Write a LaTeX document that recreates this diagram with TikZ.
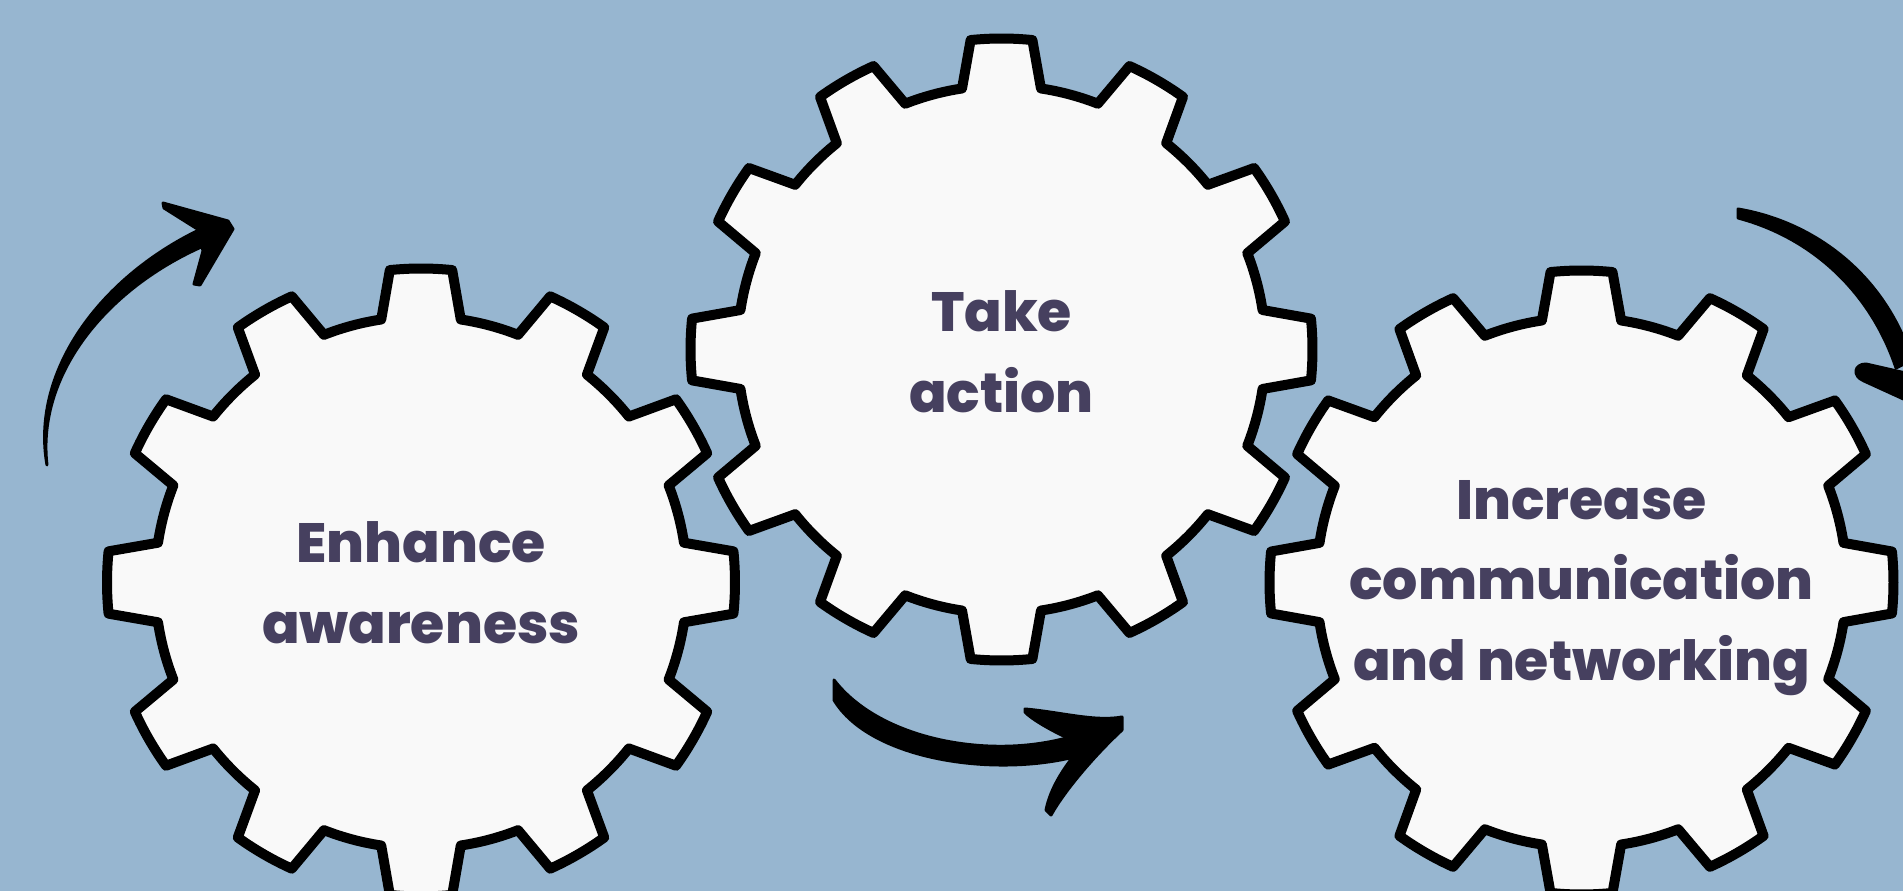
\documentclass[tikz,border=0pt]{standalone}
\usepackage{fontspec}
\setmainfont{Poppins}
\newfontfamily\gearfont{Poppins}[UprightFont={* ExtraBold}]
\usepackage{tikz}
\usetikzlibrary{calc}
\definecolor{bgblue}{HTML}{97B6D0}
\definecolor{gearwhite}{HTML}{F9F9F9}
\definecolor{slate}{HTML}{46405F}
\tikzset{
  gear/.style={draw=black, fill=gearwhite, line width=0.2cm, line join=round},
  brush/.style={fill=black, draw=black, line width=0.06cm, line join=round},
  geartext/.style={text=slate, align=center, font=\fontsize{31.5}{46}\selectfont\gearfont}
}
\def\gear(#1)(#2:#3){\draw[gear, shift={(#1)}] ({90-8.6}:#3)
  \foreach \t in {0,...,11}{
    -- ({90+30*\t-5.7}:#2) arc[start angle={90+30*\t-5.7}, end angle={90+30*\t+5.7}, radius=#2]
    -- ({90+30*\t+8.6}:#3) arc[start angle={90+30*\t+8.6}, end angle={90+30*\t+21.4}, radius=#3]
  } -- cycle;}

\begin{document}
\begin{tikzpicture}[x=0.02cm, y=-0.02cm]
		%%%%% START %%%%%
		
		\useasboundingbox (0, 0) rectangle (1903, 891);
		\clip (0, 0) rectangle (1903, 891);
		\fill[bgblue] (0, 0) rectangle (1903, 891);
		
		\gear(421, 582.5)(314:266)
		\gear(1001.5, 349.5)(311:264)
		\gear(1581.5, 582.5)(312:265)
		
		\node[geartext] (enhance) at (421, 582.5) {Enhance\\awareness};
		\node[geartext] (takeaction) at (1001.5, 352) {Take\\action};
		\node[geartext] (increase) at (1581.5, 588) {Increase\\communication\\and networking};
		
		% top left arrow
		\draw[brush] (47, 465) .. controls (30, 369) and (104, 271) .. (212, 224)
			-- (218, 240) .. controls (112, 281) and (36, 371) .. (47, 465) -- cycle;
		\draw[brush] (163, 203) -- (228, 221) -- (233, 229) -- (200, 285) -- (194, 284)
			-- (203, 251) -- (199, 230) -- (164, 208) -- cycle;
		
		% bottom arrow
		\draw[brush] (834, 680) .. controls (880, 740) and (990, 760) .. (1070, 737)
			-- (1078, 756) .. controls (995, 778) and (870, 760) .. (834, 700) -- cycle;
		\draw[brush] (1025, 709) .. controls (1060, 712) and (1095, 722) .. (1122, 717)
			-- (1122, 730) .. controls (1095, 755) and (1065, 790) .. (1051, 815)
			-- (1046, 810) .. controls (1050, 790) and (1062, 770) .. (1077, 752)
			-- (1068, 738) .. controls (1050, 730) and (1030, 718) .. (1025, 712) -- cycle;
		
		% right arrow
		\draw[brush] (1738, 209) .. controls (1815, 222) and (1885, 275) .. (1912, 360)
			-- (1896, 368) .. controls (1870, 290) and (1810, 237) .. (1738, 218) -- cycle;
		\draw[brush] (1866, 364) -- (1910, 374) -- (1910, 402) -- (1864, 381)
			.. controls (1852, 376) and (1854, 364) .. (1866, 364) -- cycle;
		
		%%%%% END %%%%%
	\end{tikzpicture}
\end{document}
